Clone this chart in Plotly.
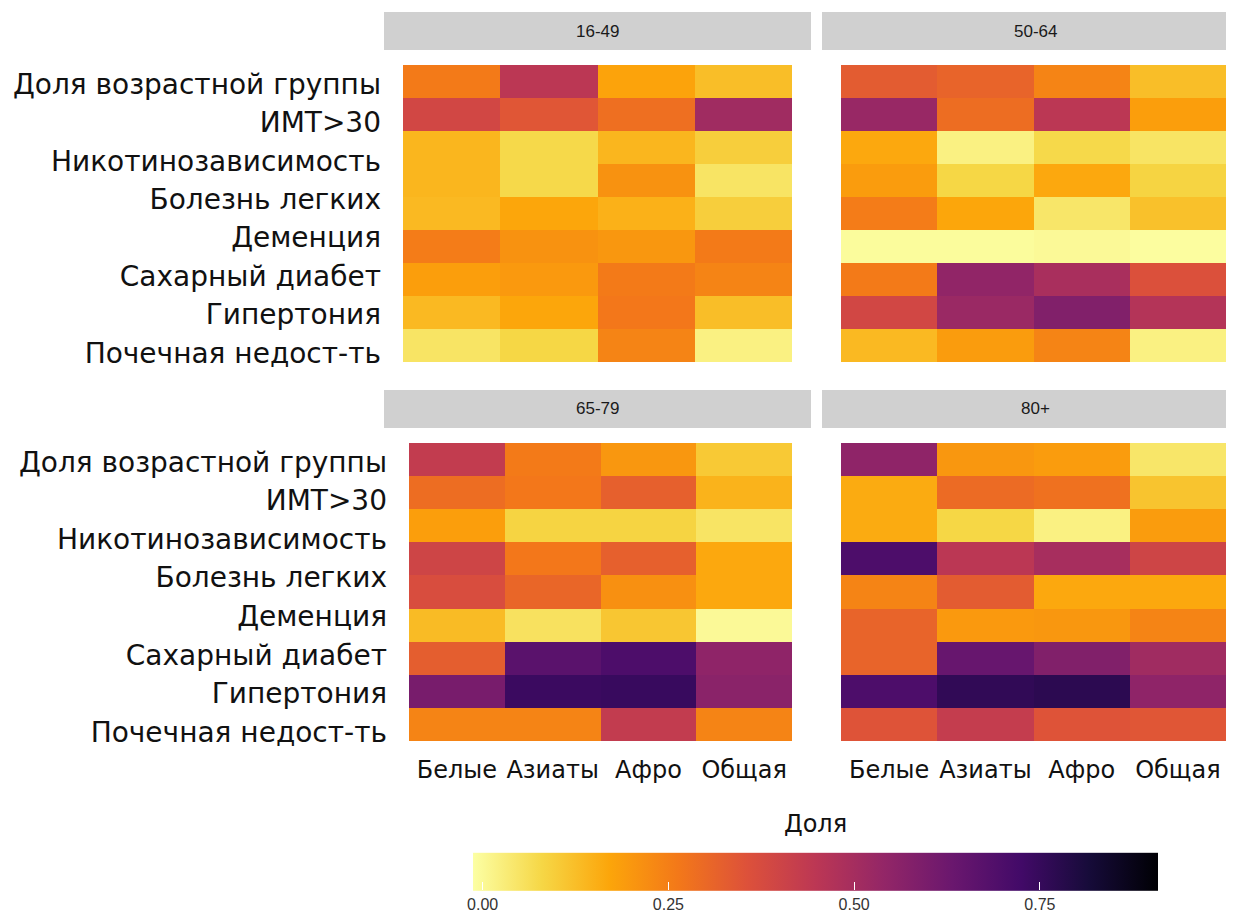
import plotly.graph_objects as go

# ---------------- data ----------------
age_groups = ["16-49", "50-64", "65-79", "80+"]
races = ["Белые", "Азиаты", "Афро", "Общая"]
factors = ["Доля возрастной группы", "ИМТ>30", "Никотинозависимость", "Болезнь легких",
           "Деменция", "Сахарный диабет", "Гипертония", "Почечная недост-ть"]

# 9 tile rows per panel (top to bottom), 4 columns (races)
share_16_49 = [
    [0.26, 0.45, 0.175, 0.125],
    [0.39, 0.345, 0.285, 0.51],
    [0.14, 0.075, 0.14, 0.095],
    [0.14, 0.075, 0.21, 0.05],
    [0.135, 0.17, 0.15, 0.095],
    [0.255, 0.21, 0.20, 0.26],
    [0.185, 0.195, 0.26, 0.24],
    [0.135, 0.17, 0.265, 0.125],
    [0.05, 0.08, 0.24, 0.02],
]
share_50_64 = [
    [0.33, 0.31, 0.24, 0.125],
    [0.53, 0.29, 0.45, 0.185],
    [0.165, 0.02, 0.075, 0.05],
    [0.19, 0.08, 0.165, 0.085],
    [0.255, 0.17, 0.045, 0.12],
    [-0.005, -0.005, 0.0, -0.008],
    [0.26, 0.545, 0.49, 0.36],
    [0.39, 0.525, 0.58, 0.465],
    [0.135, 0.19, 0.24, 0.02],
]
share_65_79 = [
    [0.43, 0.26, 0.20, 0.105],
    [0.29, 0.265, 0.32, 0.145],
    [0.185, 0.085, 0.085, 0.05],
    [0.40, 0.265, 0.32, 0.165],
    [0.37, 0.305, 0.215, 0.165],
    [0.13, 0.055, 0.11, 0.0],
    [0.325, 0.67, 0.70, 0.55],
    [0.60, 0.74, 0.745, 0.56],
    [0.24, 0.24, 0.43, 0.24],
]
share_80 = [
    [0.55, 0.20, 0.19, 0.045],
    [0.16, 0.295, 0.28, 0.115],
    [0.16, 0.08, 0.02, 0.19],
    [0.70, 0.45, 0.495, 0.40],
    [0.24, 0.33, 0.165, 0.165],
    [0.31, 0.195, 0.20, 0.24],
    [0.31, 0.64, 0.58, 0.51],
    [0.70, 0.76, 0.77, 0.55],
    [0.35, 0.425, 0.35, 0.345],
]
colorbar_ticks = [0.0, 0.25, 0.5, 0.75]
colorbar_ticktext = ["0.00", "0.25", "0.50", "0.75"]

# reversed inferno (matplotlib samples)
inferno = ["#000004", "#160b39", "#420a68", "#6a176e", "#932667", "#bc3754",
           "#dd513a", "#f37819", "#fca50a", "#f6d746", "#fcffa4"]
inferno_r = [[k / 10, c] for k, c in enumerate(reversed(inferno))]

# ---------------- layout geometry (screen pixels) ----------------
BODY = 8  # default page margin around the plot
W, H = 1234 - 2 * BODY, 922 - 2 * BODY
def fx(x):
    return (x - BODY) / W
def fy(y):
    return 1 - (y - BODY) / H

panels = [
    # values, x-range px, y-range px, strip px (x0,x1,y0,y1), show y labels, show x labels
    (share_16_49, (403, 792), (65, 362), (384, 811, 12, 50), True, False),
    (share_50_64, (841, 1230), (65, 362), (822, 1226, 12, 50), False, False),
    (share_65_79, (409, 792), (443, 741), (384, 811, 390, 428), True, True),
    (share_80, (841, 1230), (443, 741), (822, 1226, 390, 428), False, True),
]
strip_centers = [597.5, 1035.5, 597.5, 1035.5]

n_rows = len(share_16_49)
row_idx = list(range(n_rows))
label_first = -0.5 + 19 / 33.0
label_step = 38.4 / 33.0
label_pos = [label_first + label_step * i for i in range(len(factors))]

LABEL_FONT = "DejaVu Sans"
fig = go.Figure()
layout = dict()
shapes = []
annotations = []

for i, (z, (x0, x1), (y0, y1), (sx0, sx1, sy0, sy1), show_y, show_x) in enumerate(panels):
    n = i + 1
    xa = "x" if n == 1 else f"x{n}"
    ya = "y" if n == 1 else f"y{n}"
    fig.add_trace(go.Heatmap(
        z=z, x=races, y=row_idx, coloraxis="coloraxis",
        xaxis=xa, yaxis=ya, name=age_groups[i],
        hovertemplate="%{x}: %{z:.2f}<extra>" + age_groups[i] + "</extra>",
    ))
    layout["xaxis" if n == 1 else f"xaxis{n}"] = dict(
        domain=[fx(x0), min(fx(x1), 1.0)], anchor=ya, type="category",
        range=[-0.5, 3.5], showgrid=False, zeroline=False, showline=False,
        ticks="", showticklabels=show_x, ticklabelstandoff=12,
        tickfont=dict(family=LABEL_FONT, size=24, color="#111111"),
    )
    layout["yaxis" if n == 1 else f"yaxis{n}"] = dict(
        domain=[fy(y1), fy(y0)], anchor=xa,
        range=[n_rows - 0.5, -0.5], showgrid=False, zeroline=False, showline=False,
        ticks="", showticklabels=show_y, tickvals=label_pos, ticktext=factors,
        ticklabelstandoff=21,
        tickfont=dict(family=LABEL_FONT, size=28, color="#111111"),
    )
    shapes.append(dict(type="rect", xref="paper", yref="paper",
                       x0=fx(sx0), x1=min(fx(sx1), 1.0), y0=fy(sy1), y1=fy(sy0),
                       fillcolor="#d0d0d0", line=dict(width=0), layer="below"))
    annotations.append(dict(xref="paper", yref="paper",
                            x=fx(strip_centers[i]), y=fy((sy0 + sy1) / 2),
                            text=age_groups[i], showarrow=False,
                            xanchor="center", yanchor="middle",
                            font=dict(family="Liberation Sans", size=17, color="#1a1a1a")))

fig.update_layout(
    width=W, height=H,
    margin=dict(l=0, r=0, t=0, b=0, autoexpand=False),
    paper_bgcolor="white", plot_bgcolor="white",
    font=dict(family=LABEL_FONT, color="#111111"),
    shapes=shapes, annotations=annotations,
    coloraxis=dict(
        colorscale=inferno_r, cmin=-0.013, cmax=0.909,
        colorbar=dict(
            orientation="h", lenmode="pixels", len=685, thickness=38,
            x=fx(815.5), xanchor="center", y=fy(922), yanchor="bottom",
            xpad=0, ypad=0, outlinewidth=0,
            title=dict(text="Доля", side="top", font=dict(family=LABEL_FONT, size=24, color="#111111")),
            tickvals=colorbar_ticks, ticktext=colorbar_ticktext,
            ticks="inside", ticklen=8, tickcolor="white", tickwidth=1,
            tickfont=dict(family="Liberation Sans", size=16, color="#333333"),
        ),
    ),
    **layout,
)

fig.write_html("out.html")
